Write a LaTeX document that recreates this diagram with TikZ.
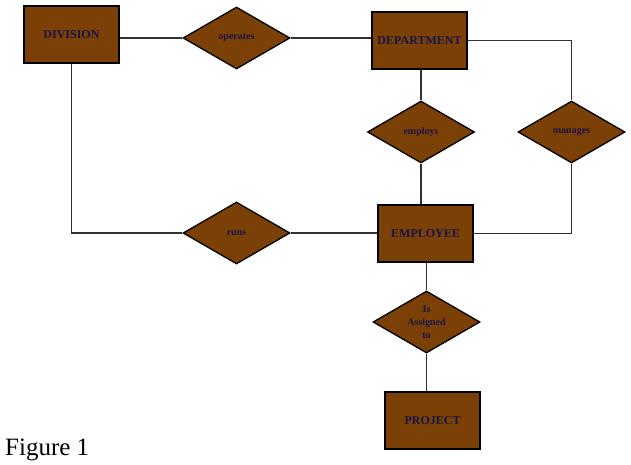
\documentclass[tikz,border=0pt]{standalone}
\usepackage{fontspec}
\setmainfont{Liberation Serif}
\usetikzlibrary{shapes.geometric}
\definecolor{erbrown}{RGB}{122,64,6}
\definecolor{ertext}{RGB}{26,20,70}
\definecolor{erline}{RGB}{50,50,50}
\tikzset{
  entity/.style={draw=black, line width=1.3pt, fill=erbrown, minimum width=95pt, minimum height=57pt, inner sep=0pt, text=ertext, font=\bfseries\fontsize{12}{14}\selectfont},
  relation/.style={draw=black, line width=1.3pt, fill=erbrown, diamond, aspect=1.73, minimum width=107pt, minimum height=62pt, inner sep=0pt, text=ertext, font=\bfseries\fontsize{10}{13}\selectfont, align=center},
  conn/.style={draw=erline, line width=1.4pt}
}
\begin{document}
\begin{tikzpicture}[x=1pt,y=1pt]
\useasboundingbox (0,0) rectangle (631,465);
\node[entity] (div) at (71.5,430.5) {DIVISION};
\node[relation] (op) at (236.5,427) {operates};
\node[entity] (dept) at (419.5,424.5) {DEPARTMENT};
\node[relation] (empl) at (421,333) {employs};
\node[relation] (mgr) at (571.5,333) {manages};
\node[entity] (emp) at (425.5,231.5) {EMPLOYEE};
\node[relation] (runs) at (236.5,232) {runs};
\node[relation] (asg) at (426.5,143) {Is\\Assigned\\to};
\node[entity] (proj) at (432.5,44.5) {PROJECT};
\node[font=\fontsize{25}{28}\selectfont, anchor=base west, inner sep=0pt] (fig) at (5,9.5) {Figure 1};
\draw[conn] (op.west) -- (op.west -| div.east);
\draw[conn] (op.east) -- (op.east -| dept.west);
\draw[conn] (empl.north) -- (empl.north |- dept.south);
\draw[conn] (dept.east) -- (mgr.north |- dept.east) -- (mgr.north);
\draw[conn] (empl.south) -- (empl.south |- emp.north);
\draw[conn] (div.south) -- (div.south |- runs.west) -- (runs.west);
\draw[conn] (runs.east) -- (runs.east -| emp.west);
\draw[conn] (emp.east) -- (mgr.south |- emp.east) -- (mgr.south);
\draw[conn] (asg.north) -- (asg.north |- emp.south);
\draw[conn] (asg.south) -- (asg.south |- proj.north);
\end{tikzpicture}
\end{document}
